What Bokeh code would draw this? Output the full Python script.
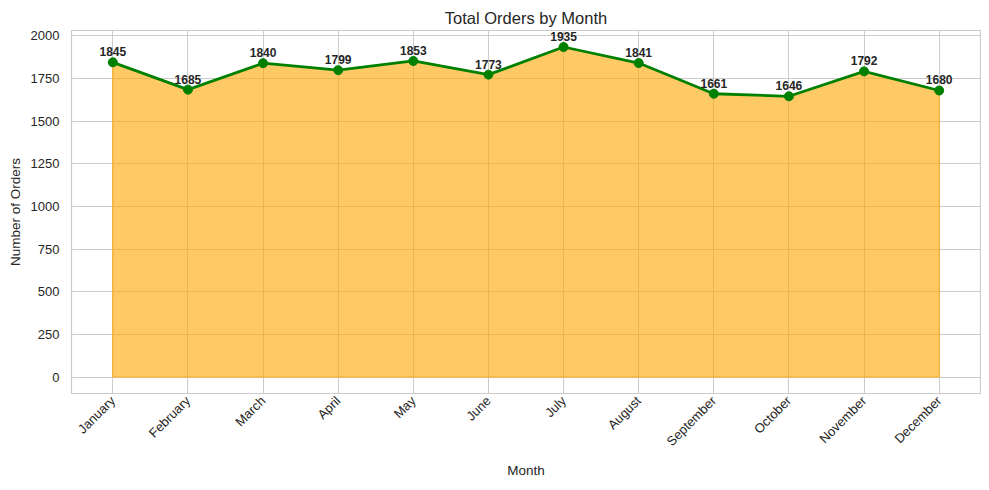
import math

from bokeh.plotting import figure
from bokeh.models import Range1d, FixedTicker, ColumnDataSource
from bokeh.core.properties import value
from bokeh.embed import file_html
from bokeh.resources import INLINE

months = ["January", "February", "March", "April", "May", "June",
          "July", "August", "September", "October", "November", "December"]
orders = [1845, 1685, 1840, 1799, 1853, 1773, 1935, 1841, 1661, 1646, 1792, 1680]
y_ticks = [0, 250, 500, 750, 1000, 1250, 1500, 1750, 2000]

FONT = "Liberation Sans"
TEXT = "#262626"
GRID = "#cccccc"

idx = list(range(len(months)))
src = ColumnDataSource(data={
    "x": idx,
    "y": orders,
    "label": [str(v) for v in orders],
})

# 5% margins like matplotlib
x_pad = 0.05 * (len(months) - 1)
y_pad = 0.05 * max(orders)

p = figure(width=981, height=482, output_backend="svg", toolbar_location=None,
           x_range=Range1d(-x_pad, len(months) - 1 + x_pad),
           y_range=Range1d(-y_pad, max(orders) + y_pad),
           title="Total Orders by Month",
           x_axis_label="Month", y_axis_label="Number of Orders",
           min_border_left=71, min_border_right=1, min_border_top=30, min_border_bottom=89)

p.title.align = "center"
p.title.text_font = FONT
p.title.text_font_size = "16.5px"
p.title.text_font_style = "normal"
p.title.text_color = TEXT
p.title.standoff = 7

p.outline_line_color = GRID
p.outline_line_width = 1.2
p.background_fill_color = "white"
p.border_fill_color = "white"

for ax in (p.xaxis[0], p.yaxis[0]):
    ax.axis_line_color = None
    ax.major_tick_line_color = None
    ax.minor_tick_line_color = None
    ax.major_tick_out = 0
    ax.major_tick_in = 0
    ax.minor_tick_out = 0
    ax.major_label_text_font = FONT
    ax.major_label_text_font_size = "13px"
    ax.major_label_text_color = TEXT
    ax.axis_label_text_font = FONT
    ax.axis_label_text_font_size = "13.5px"
    ax.axis_label_text_font_style = "normal"
    ax.axis_label_text_color = TEXT

p.xaxis.ticker = FixedTicker(ticks=idx)
p.xaxis.major_label_overrides = {i: m for i, m in zip(idx, months)}
p.xaxis.major_label_orientation = math.pi / 4
p.xaxis.major_label_standoff = 5
p.xaxis.axis_label_standoff = 6

p.yaxis.ticker = FixedTicker(ticks=y_ticks)
p.yaxis.major_label_standoff = 12
p.yaxis.axis_label_standoff = 5

p.xgrid.grid_line_color = GRID
p.ygrid.grid_line_color = GRID
p.xgrid.grid_line_width = 1
p.ygrid.grid_line_width = 1

# filled area under the line
area_x = [idx[0]] + idx + [idx[-1]]
area_y = [0] + orders + [0]
p.patch(area_x, area_y, fill_color="orange", fill_alpha=0.6,
        line_color="orange", line_alpha=0.75, line_width=1.2)

p.line("x", "y", source=src, line_color="green", line_width=2.8)
p.scatter("x", "y", source=src, size=9, fill_color="green", line_color="green")

p.text("x", "y", text="label", source=src, text_align="center",
       text_baseline="bottom", y_offset=-6, text_font=value(FONT),
       text_font_size="12px", text_font_style="bold", text_color=TEXT)

open("out.html", "w").write(file_html(p, INLINE))
